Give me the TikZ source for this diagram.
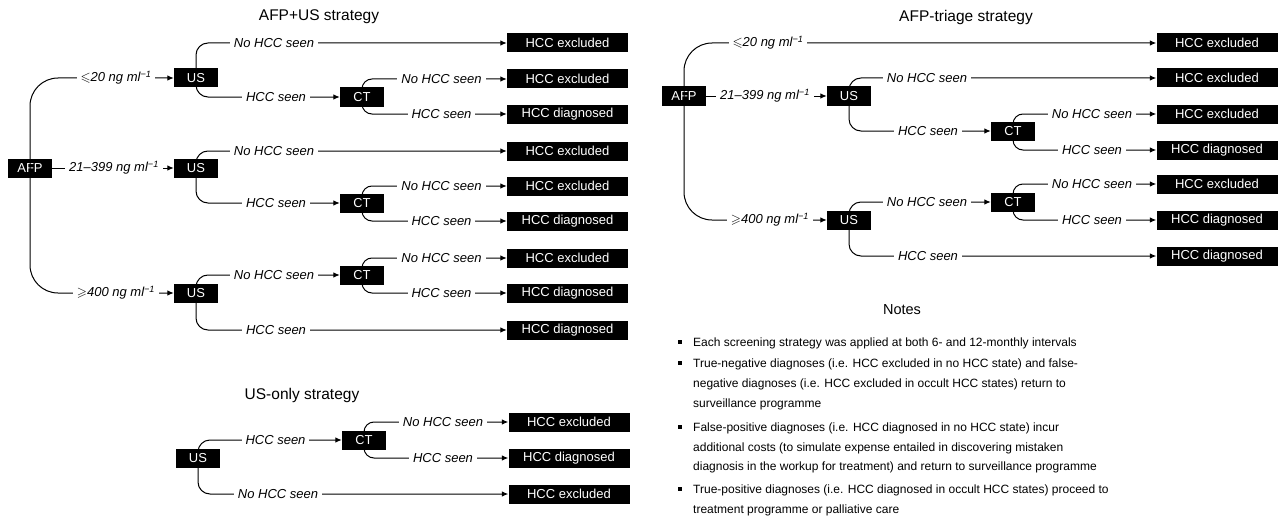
\documentclass[tikz,border=0pt]{standalone}
\usepackage{amssymb}
\usepackage{fontspec}
\setmainfont{Liberation Sans}
\usetikzlibrary{arrows.meta}
\begin{document}
\begin{tikzpicture}[x=1pt,y=-1pt,
  box/.style={fill=black,text=white,minimum width=44pt,minimum height=19pt,inner sep=0pt,font=\fontsize{13}{13}\selectfont},
  res/.style={box,minimum width=121pt},
  lab/.style={fill=white,inner xsep=4pt,inner ysep=1pt,font=\fontsize{13}{13}\selectfont\itshape},
  conn/.style={line width=1pt,rounded corners=12pt},
  arr/.style={conn,-{Latex[length=6.5pt,width=5.5pt]}},
  big/.style={conn,rounded corners=28pt},
  bigarr/.style={arr,rounded corners=28pt},
  ctarr/.style={arr,rounded corners=10pt},
  ttl/.style={font=\fontsize{15.5}{15.5}\selectfont},
  note/.style={anchor=base west,inner sep=0pt,font=\fontsize{12}{12}\selectfont},
  bul/.style={fill=black,minimum size=4pt,inner sep=0pt},
]
\useasboundingbox (0,0) rectangle (1280,519);

% ---------------- AFP+US strategy ----------------
\node[ttl] (t1) at (319,17) {AFP+US strategy};
\node[box] (afp1) at (30,168) {AFP};
\node[box] (us1) at (196,78) {US};
\node[box] (us2) at (196,168) {US};
\node[box] (us3) at (196,293) {US};
\node[box] (ct1) at (362,97) {CT};
\node[box] (ct2) at (362,203) {CT};
\node[box] (ct3) at (362,275) {CT};
\node[res] (r1) at (567.5,43) {HCC excluded};
\node[res] (r2) at (567.5,79) {HCC excluded};
\node[res] (r3) at (567.5,114) {HCC diagnosed};
\node[res] (r4) at (567.5,151) {HCC excluded};
\node[res] (r5) at (567.5,186) {HCC excluded};
\node[res] (r6) at (567.5,221) {HCC diagnosed};
\node[res] (r7) at (567.5,258) {HCC excluded};
\node[res] (r8) at (567.5,293) {HCC diagnosed};
\node[res] (r9) at (567.5,330) {HCC diagnosed};

\draw[bigarr] (afp1.center) |- (us1.west);
\draw[arr] (afp1.east) -- (us2.west);
\draw[bigarr] (afp1.center) |- (us3.west);
\draw[arr] (us1.center) |- (r1.west);
\draw[arr] (us1.center) |- (ct1.west);
\draw[ctarr] (ct1.center) |- (r2.west);
\draw[ctarr] (ct1.center) |- (r3.west);
\draw[arr] (us2.center) |- (r4.west);
\draw[arr] (us2.center) |- (ct2.west);
\draw[ctarr] (ct2.center) |- (r5.west);
\draw[ctarr] (ct2.center) |- (r6.west);
\draw[arr] (us3.center) |- (ct3.west);
\draw[arr] (us3.center) |- (r9.west);
\draw[ctarr] (ct3.center) |- (r7.west);
\draw[ctarr] (ct3.center) |- (r8.west);

\node[lab] (a1) at (116,78) {$\leqslant$20 ng ml\textsuperscript{−1}};
\node[lab] (a2) at (114,168) {21--399 ng ml\textsuperscript{−1}};
\node[lab] (a3) at (116,293) {$\geqslant$400 ng ml\textsuperscript{−1}};
\node[lab] (b1) at (274,43) {No HCC seen};
\node[lab] (b2) at (276,97) {HCC seen};
\node[lab] (b3) at (441.5,79) {No HCC seen};
\node[lab] (b4) at (441.5,114) {HCC seen};
\node[lab] (b5) at (274,151) {No HCC seen};
\node[lab] (b6) at (276,203) {HCC seen};
\node[lab] (b7) at (441.5,186) {No HCC seen};
\node[lab] (b8) at (441.5,221) {HCC seen};
\node[lab] (b9) at (274,275) {No HCC seen};
\node[lab] (b10) at (276,330) {HCC seen};
\node[lab] (b11) at (441.5,258) {No HCC seen};
\node[lab] (b12) at (441.5,293) {HCC seen};

% ---------------- US-only strategy ----------------
\node[ttl] (t2) at (302,395) {US-only strategy};
\node[box] (us6) at (198,458) {US};
\node[box] (ct6) at (364,440) {CT};
\node[res] (r10) at (569,422) {HCC excluded};
\node[res] (r11) at (569,458) {HCC diagnosed};
\node[res] (r12) at (569,494) {HCC excluded};
\draw[arr] (us6.center) |- (ct6.west);
\draw[arr] (us6.center) |- (r12.west);
\draw[ctarr] (ct6.center) |- (r10.west);
\draw[ctarr] (ct6.center) |- (r11.west);
\node[lab] (c1) at (275.5,440) {HCC seen};
\node[lab] (c2) at (278,494) {No HCC seen};
\node[lab] (c3) at (443,422) {No HCC seen};
\node[lab] (c4) at (443,458) {HCC seen};

% ---------------- AFP-triage strategy ----------------
\node[ttl] (t3) at (966,17) {AFP-triage strategy};
\node[box] (afp2) at (684,96) {AFP};
\node[box] (us4) at (849,96) {US};
\node[box] (us5) at (849,220) {US};
\node[box] (ct4) at (1013,131) {CT};
\node[box] (ct5) at (1013,202) {CT};
\node[res] (s1) at (1217,43) {HCC excluded};
\node[res] (s2) at (1217,78) {HCC excluded};
\node[res] (s3) at (1217,114) {HCC excluded};
\node[res] (s4) at (1217,150) {HCC diagnosed};
\node[res] (s5) at (1217,184) {HCC excluded};
\node[res] (s6) at (1217,220) {HCC diagnosed};
\node[res] (s7) at (1217,256) {HCC diagnosed};

\draw[bigarr] (afp2.center) |- (s1.west);
\draw[arr] (afp2.east) -- (us4.west);
\draw[bigarr] (afp2.center) |- (us5.west);
\draw[arr] (us4.center) |- (s2.west);
\draw[arr] (us4.center) |- (ct4.west);
\draw[ctarr] (ct4.center) |- (s3.west);
\draw[ctarr] (ct4.center) |- (s4.west);
\draw[arr] (us5.center) |- (ct5.west);
\draw[arr] (us5.center) |- (s7.west);
\draw[ctarr] (ct5.center) |- (s5.west);
\draw[ctarr] (ct5.center) |- (s6.west);

\node[lab] (d1) at (768,43) {$\leqslant$20 ng ml\textsuperscript{−1}};
\node[lab] (d2) at (765,96) {21--399 ng ml\textsuperscript{−1}};
\node[lab] (d3) at (770,220) {$\geqslant$400 ng ml\textsuperscript{−1}};
\node[lab] (e1) at (927,78) {No HCC seen};
\node[lab] (e2) at (928,131) {HCC seen};
\node[lab] (e3) at (1092,114) {No HCC seen};
\node[lab] (e4) at (1092,150) {HCC seen};
\node[lab] (e5) at (927,202) {No HCC seen};
\node[lab] (e6) at (928,256) {HCC seen};
\node[lab] (e7) at (1092,184) {No HCC seen};
\node[lab] (e8) at (1092,220) {HCC seen};

% ---------------- Notes ----------------
\node[font=\fontsize{14.5}{14.5}\selectfont] (nt) at (902,310) {Notes};
\node[bul] (p1) at (680,342) {};
\node[bul] (p2) at (680,363) {};
\node[bul] (p3) at (680,427) {};
\node[bul] (p4) at (680,489) {};
\node[note] (n1) at (693,346) {Each screening strategy was applied at both 6- and 12-monthly intervals};
\node[note] (n2) at (693,367) {True-negative diagnoses (i.e. HCC excluded in no HCC state) and false-};
\node[note] (n3) at (693,387) {negative diagnoses (i.e. HCC excluded in occult HCC states) return to};
\node[note] (n4) at (693,407) {surveillance programme};
\node[note] (n5) at (693,431) {False-positive diagnoses (i.e. HCC diagnosed in no HCC state) incur};
\node[note] (n6) at (693,451) {additional costs (to simulate expense entailed in discovering mistaken};
\node[note] (n7) at (693,470) {diagnosis in the workup for treatment) and return to surveillance programme};
\node[note] (n8) at (693,493) {True-positive diagnoses (i.e. HCC diagnosed in occult HCC states) proceed to};
\node[note] (n9) at (693,513) {treatment programme or palliative care};
\end{tikzpicture}
\end{document}
